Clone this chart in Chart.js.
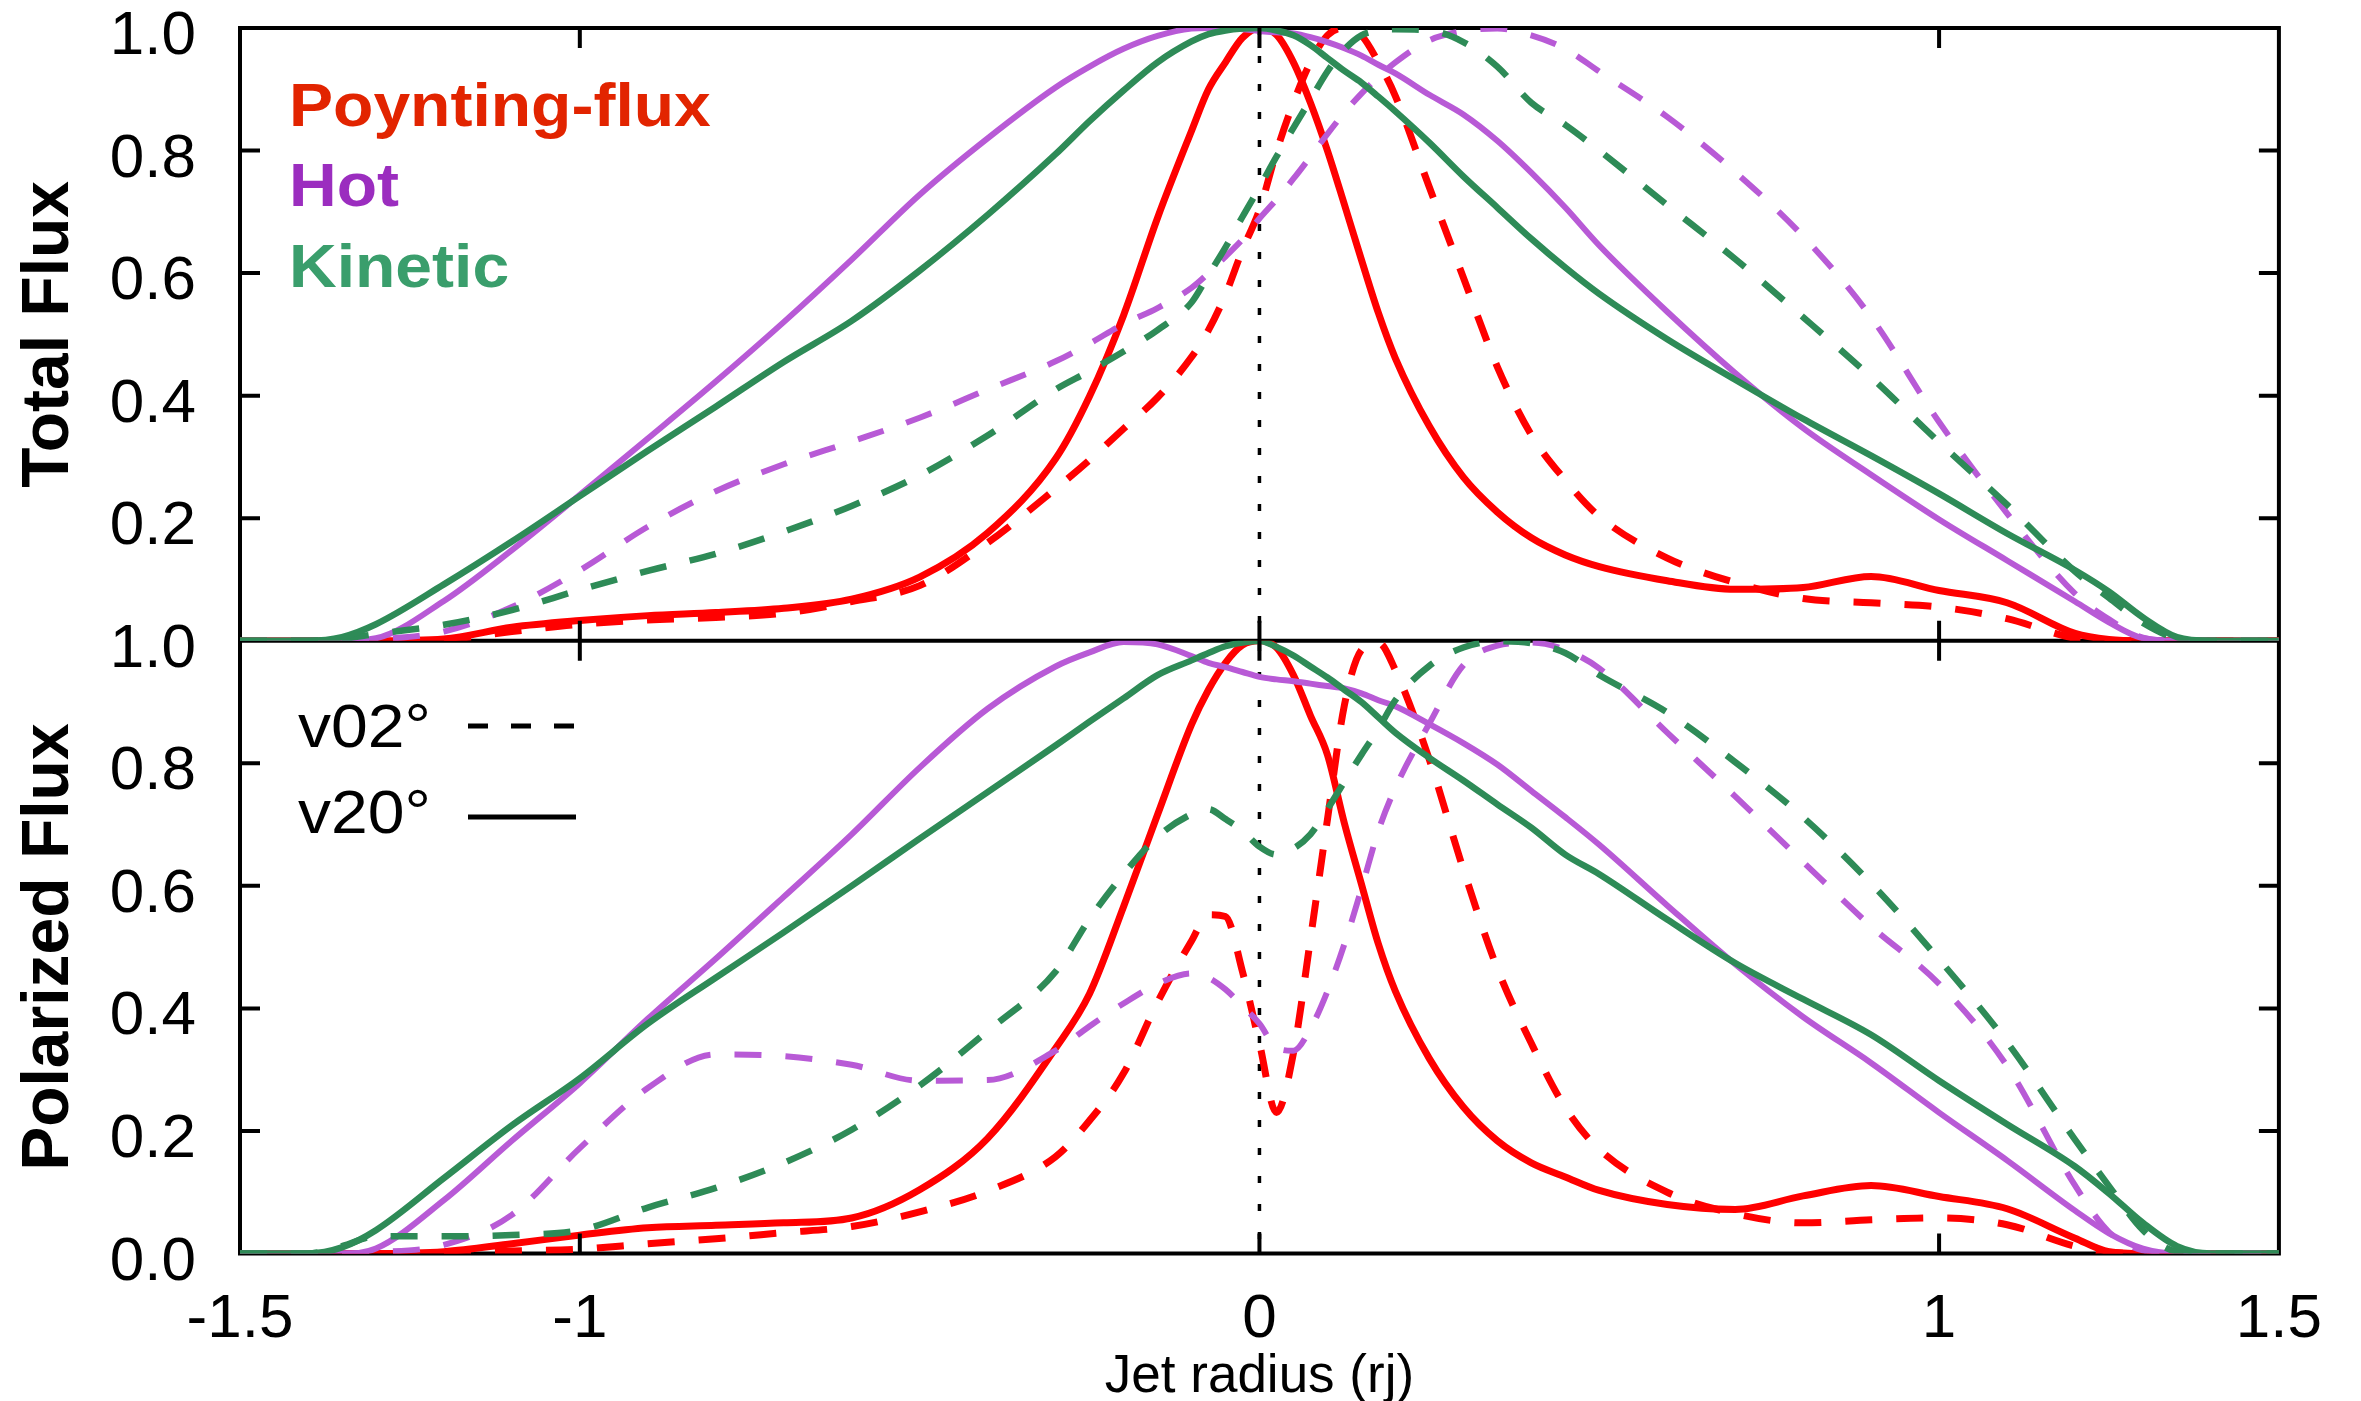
<!DOCTYPE html>
<html>
<head>
<meta charset="utf-8">
<script src="https://cdn.jsdelivr.net/npm/chart.js@4.4.1/dist/chart.umd.min.js"></script>
<style>
  html, body { margin: 0; padding: 0; background: #fff; }
  #wrap { width: 2361px; height: 1401px; }
</style>
</head>
<body>
<div id="wrap"><canvas id="flux" width="2361" height="1401"></canvas></div>
<script>
// jet radius grid (rj), finer around the axis where the profiles are sharp
const radius = [-1.5, -1.4, -1.35, -1.3, -1.2, -1.1, -1.0, -0.9, -0.8, -0.7, -0.6, -0.5, -0.4, -0.3, -0.25, -0.2,
  -0.15, -0.1, -0.075, -0.05, -0.025, 0, 0.025, 0.05, 0.075, 0.1, 0.125, 0.15, 0.175, 0.2, 0.25, 0.3, 0.35, 0.4,
  0.45, 0.5, 0.6, 0.7, 0.8, 0.9, 1.0, 1.1, 1.2, 1.25, 1.3, 1.35, 1.4, 1.5];

// total flux, v20 = solid, v02 = dashed
const totPoy20 = [0, 0, 0, 0, 0.003, 0.022, 0.033, 0.041, 0.046, 0.053, 0.068, 0.104, 0.176, 0.297, 0.399, 0.531,
  0.69, 0.832, 0.9, 0.944, 0.984, 1.0, 0.989, 0.944, 0.878, 0.8, 0.712, 0.622, 0.535, 0.461, 0.35, 0.267, 0.21, 0.168,
  0.14, 0.121, 0.098, 0.084, 0.087, 0.105, 0.082, 0.062, 0.012, 0.002, 0, 0, 0, 0];
const totPoy02 = [0, 0, 0, 0, 0.002, 0.015, 0.027, 0.034, 0.038, 0.045, 0.064, 0.09, 0.16, 0.248, 0.295, 0.346,
  0.397, 0.463, 0.507, 0.565, 0.638, 0.703, 0.798, 0.878, 0.944, 0.988, 1.0, 0.988, 0.944, 0.889, 0.74, 0.593, 0.447,
  0.336, 0.262, 0.203, 0.135, 0.095, 0.069, 0.062, 0.055, 0.036, 0.004, 0, 0, 0, 0, 0];
const totHot20 = [0, 0, 0, 0.004, 0.065, 0.148, 0.238, 0.33, 0.423, 0.52, 0.622, 0.728, 0.82, 0.903, 0.937, 0.966,
  0.987, 0.999, 1.0, 1.0, 0.998, 0.995, 0.993, 0.991, 0.985, 0.977, 0.967, 0.955, 0.94, 0.926, 0.891, 0.859, 0.816,
  0.764, 0.707, 0.645, 0.537, 0.437, 0.347, 0.271, 0.198, 0.131, 0.064, 0.03, 0.004, 0, 0, 0];
const totHot02 = [0, 0, 0, 0.002, 0.015, 0.055, 0.115, 0.186, 0.244, 0.288, 0.325, 0.364, 0.41, 0.456, 0.485, 0.517,
  0.543, 0.576, 0.6, 0.627, 0.655, 0.689, 0.72, 0.754, 0.79, 0.827, 0.862, 0.893, 0.92, 0.944, 0.98, 0.995, 0.999,
  0.988, 0.966, 0.929, 0.855, 0.765, 0.66, 0.528, 0.357, 0.208, 0.077, 0.035, 0.005, 0, 0, 0];
const totKin20 = [0, 0, 0.006, 0.027, 0.092, 0.162, 0.236, 0.31, 0.382, 0.455, 0.522, 0.604, 0.695, 0.794, 0.848, 0.898,
  0.944, 0.978, 0.99, 0.996, 0.999, 1.0, 0.996, 0.988, 0.972, 0.951, 0.93, 0.911, 0.888, 0.864, 0.813, 0.758, 0.707,
  0.656, 0.609, 0.566, 0.492, 0.426, 0.362, 0.302, 0.24, 0.175, 0.115, 0.08, 0.038, 0.006, 0, 0];
const totKin02 = [0, 0, 0.003, 0.011, 0.026, 0.05, 0.083, 0.114, 0.142, 0.178, 0.22, 0.27, 0.335, 0.41, 0.44, 0.472,
  0.507, 0.552, 0.597, 0.642, 0.692, 0.74, 0.79, 0.837, 0.883, 0.929, 0.965, 0.988, 0.996, 0.998, 0.996, 0.977, 0.937,
  0.878, 0.842, 0.80, 0.711, 0.623, 0.528, 0.43, 0.324, 0.222, 0.113, 0.07, 0.029, 0.004, 0, 0];

// polarized flux
const polPoy20 = [0, 0, 0, 0, 0.003, 0.016, 0.03, 0.042, 0.046, 0.05, 0.058, 0.104, 0.188, 0.335, 0.424, 0.566,
  0.716, 0.863, 0.92, 0.964, 0.993, 1.0, 0.989, 0.944, 0.878, 0.814, 0.702, 0.603, 0.505, 0.428, 0.318, 0.239, 0.184,
  0.148, 0.125, 0.103, 0.08, 0.072, 0.094, 0.111, 0.093, 0.073, 0.025, 0.003, 0, 0, 0, 0];
const polPoy02 = [0, 0, 0, 0, 0, 0.004, 0.007, 0.016, 0.024, 0.034, 0.044, 0.068, 0.102, 0.158, 0.217, 0.294,
  0.41, 0.51, 0.553, 0.55, 0.46, 0.343, 0.23, 0.327, 0.513, 0.708, 0.895, 0.985, 0.997, 0.952, 0.806, 0.627, 0.465,
  0.343, 0.238, 0.17, 0.1, 0.065, 0.05, 0.055, 0.058, 0.047, 0.012, 0.002, 0, 0, 0, 0];
const polHot20 = [0, 0, 0, 0.008, 0.087, 0.184, 0.278, 0.383, 0.481, 0.582, 0.684, 0.793, 0.889, 0.958, 0.981, 0.998,
  0.994, 0.975, 0.964, 0.957, 0.949, 0.941, 0.937, 0.934, 0.93, 0.926, 0.922, 0.914, 0.903, 0.893, 0.864, 0.833, 0.798,
  0.755, 0.712, 0.667, 0.568, 0.472, 0.386, 0.311, 0.23, 0.152, 0.07, 0.033, 0.008, 0, 0, 0];
const polHot02 = [0, 0, 0, 0.002, 0.014, 0.063, 0.172, 0.27, 0.325, 0.322, 0.308, 0.282, 0.283, 0.331, 0.371, 0.408,
  0.44, 0.457, 0.45, 0.431, 0.404, 0.375, 0.336, 0.331, 0.367, 0.428, 0.505, 0.595, 0.69, 0.76, 0.865, 0.96, 0.992,
  0.997, 0.985, 0.955, 0.85, 0.746, 0.639, 0.534, 0.44, 0.306, 0.111, 0.035, 0.005, 0, 0, 0];
const polKin20 = [0, 0, 0.01, 0.038, 0.123, 0.209, 0.286, 0.375, 0.45, 0.524, 0.6, 0.677, 0.753, 0.829, 0.868, 0.906,
  0.944, 0.968, 0.98, 0.991, 0.997, 1.0, 0.99, 0.976, 0.958, 0.94, 0.92, 0.9, 0.875, 0.85, 0.809, 0.772, 0.733, 0.695,
  0.651, 0.619, 0.545, 0.474, 0.415, 0.357, 0.282, 0.211, 0.142, 0.098, 0.05, 0.012, 0, 0];
const polKin02 = [0, 0, 0.012, 0.028, 0.028, 0.03, 0.038, 0.075, 0.107, 0.148, 0.202, 0.274, 0.363, 0.46, 0.546, 0.619,
  0.68, 0.717, 0.725, 0.709, 0.69, 0.664, 0.651, 0.661, 0.684, 0.725, 0.77, 0.814, 0.856, 0.903, 0.959, 0.989, 0.999,
  0.996, 0.98, 0.944, 0.883, 0.802, 0.712, 0.604, 0.48, 0.345, 0.186, 0.11, 0.038, 0.003, 0, 0];

const xTicks = [-1.5, -1, 0, 1, 1.5];
const totTicks = [0.2, 0.4, 0.6, 0.8, 1.0];
const polTicks = [0, 0.2, 0.4, 0.6, 0.8, 1.0];

const FONT = "'Liberation Sans', Arial, Helvetica, sans-serif";
const RED = "#ff0000";
const PURPLE = "#b85ad6";
const GREEN = "#2e8b57";

function line(values, color, dashed, axis, width, order) {
  return {
    data: radius.map((x, i) => ({ x: x, y: values[i] })),
    yAxisID: axis,
    borderColor: color,
    borderWidth: width,
    borderDash: dashed ? [27, 24] : [],
    borderCapStyle: "butt",
    borderJoinStyle: "round",
    cubicInterpolationMode: "monotone",
    pointRadius: 0,
    fill: false,
    order: order
  };
}

function yAxis(ticks, title) {
  return {
    type: "linear",
    position: "left",
    stack: "panels",
    stackWeight: 1,
    min: 0,
    max: 1,
    afterBuildTicks: (s) => { s.ticks = ticks.map(v => ({ value: v })); },
    afterFit: (s) => {
      s.width = 240;
      // labels sit beside the frame, no extra room needed above/below
      s.paddingTop = 0;
      s.paddingBottom = 0;
    },
    grid: { display: false, drawTicks: false },
    border: { display: false },
    ticks: {
      color: "#000",
      padding: 44,
      labelOffset: 9,
      font: { family: FONT, size: 62, lineHeight: 0.9 },
      callback: v => v.toFixed(1)
    },
    title: {
      display: true,
      text: title,
      color: "#000",
      padding: { top: 10, bottom: 0 },
      font: { family: FONT, size: 66, weight: "bold" }
    }
  };
}

function wideText(ctx, text, x, y) {
  ctx.save();
  ctx.translate(x, y);
  ctx.scale(1.065, 1);
  ctx.fillText(text, 0, 0);
  ctx.restore();
}

// frame, separator, dotted axis, inward ticks and the two text legends
const framePlugin = {
  id: "frame",
  beforeDatasetsDraw(chart) {
    const { ctx, chartArea: a, scales } = chart;
    const mid = scales.yTot.getPixelForValue(0);
    const x0 = scales.x.getPixelForValue(0);
    ctx.save();
    ctx.strokeStyle = "#000";
    ctx.lineWidth = 4;
    ctx.strokeRect(a.left, a.top, a.right - a.left, a.bottom - a.top);
    ctx.beginPath();
    ctx.moveTo(a.left, mid);
    ctx.lineTo(a.right, mid);
    ctx.stroke();
    ctx.lineWidth = 3.5;
    ctx.setLineDash([7, 21]);
    ctx.beginPath();
    ctx.moveTo(x0, a.top);
    ctx.lineTo(x0, a.bottom);
    ctx.stroke();
    ctx.restore();
  },
  afterDatasetsDraw(chart) {
    const { ctx, chartArea: a, scales } = chart;
    const len = 20;
    ctx.save();
    ctx.strokeStyle = "#000";
    ctx.lineWidth = 4;
    ctx.beginPath();
    [scales.yTot, scales.yPol].forEach(ax => {
      [0.2, 0.4, 0.6, 0.8].forEach(v => {
        const y = ax.getPixelForValue(v);
        ctx.moveTo(a.left, y); ctx.lineTo(a.left + len, y);
        ctx.moveTo(a.right, y); ctx.lineTo(a.right - len, y);
      });
      [-1, 0, 1].forEach(v => {
        const x = scales.x.getPixelForValue(v);
        ctx.moveTo(x, ax.top); ctx.lineTo(x, ax.top + len);
        ctx.moveTo(x, ax.bottom); ctx.lineTo(x, ax.bottom - len);
      });
    });
    ctx.stroke();

    // component legend
    ctx.font = "bold 62px " + FONT;
    ctx.textBaseline = "alphabetic";
    ctx.textAlign = "left";
    ctx.fillStyle = "#e22400";
    wideText(ctx, "Poynting-flux", 289, 126);
    ctx.fillStyle = "#9b2dbf";
    wideText(ctx, "Hot", 289, 206);
    ctx.fillStyle = "#3a9e6c";
    wideText(ctx, "Kinetic", 289, 287);

    // viewing angle legend
    ctx.font = "62px " + FONT;
    ctx.fillStyle = "#000";
    wideText(ctx, "v02°", 298, 747);
    wideText(ctx, "v20°", 298, 833);
    ctx.lineWidth = 5;
    ctx.setLineDash([20, 23]);
    ctx.beginPath();
    ctx.moveTo(468, 726); ctx.lineTo(576, 726);
    ctx.stroke();
    ctx.setLineDash([]);
    ctx.beginPath();
    ctx.moveTo(468, 817); ctx.lineTo(576, 817);
    ctx.stroke();
    ctx.restore();
  }
};

new Chart(document.getElementById("flux"), {
  type: "line",
  data: {
    datasets: [
      line(totPoy20, RED, false, "yTot", 7, 3),
      line(totPoy02, RED, true, "yTot", 7, 3),
      line(totHot20, PURPLE, false, "yTot", 6, 2),
      line(totHot02, PURPLE, true, "yTot", 6, 2),
      line(totKin20, GREEN, false, "yTot", 6.5, 1),
      line(totKin02, GREEN, true, "yTot", 6.5, 1),
      line(polPoy20, RED, false, "yPol", 7, 3),
      line(polPoy02, RED, true, "yPol", 7, 3),
      line(polHot20, PURPLE, false, "yPol", 6, 2),
      line(polHot02, PURPLE, true, "yPol", 6, 2),
      line(polKin20, GREEN, false, "yPol", 6.5, 1),
      line(polKin02, GREEN, true, "yPol", 6.5, 1)
    ]
  },
  options: {
    responsive: false,
    animation: false,
    devicePixelRatio: 1,
    layout: { padding: { left: 0, top: 28, right: 76, bottom: 0 } },
    plugins: {
      legend: { display: false },
      tooltip: { enabled: false }
    },
    scales: {
      x: {
        type: "linear",
        min: -1.5,
        max: 1.5,
        afterBuildTicks: (s) => { s.ticks = xTicks.map(v => ({ value: v })); },
        afterFit: (s) => { s.height = 147.5; },
        grid: { display: false, drawTicks: false },
        border: { display: false },
        ticks: {
          color: "#000",
          padding: 39,
          maxRotation: 0,
          autoSkip: false,
          font: { family: FONT, size: 62, lineHeight: 0.9 },
          callback: v => String(v)
        },
        title: {
          display: true,
          text: "Jet radius (rj)",
          color: "#000",
          padding: 0,
          font: { family: FONT, size: 53, lineHeight: 0.9 }
        }
      },
      yPol: yAxis(polTicks, "Polarized Flux"),
      yTot: yAxis(totTicks, "Total Flux")
    }
  },
  plugins: [framePlugin]
});
</script>
</body>
</html>
